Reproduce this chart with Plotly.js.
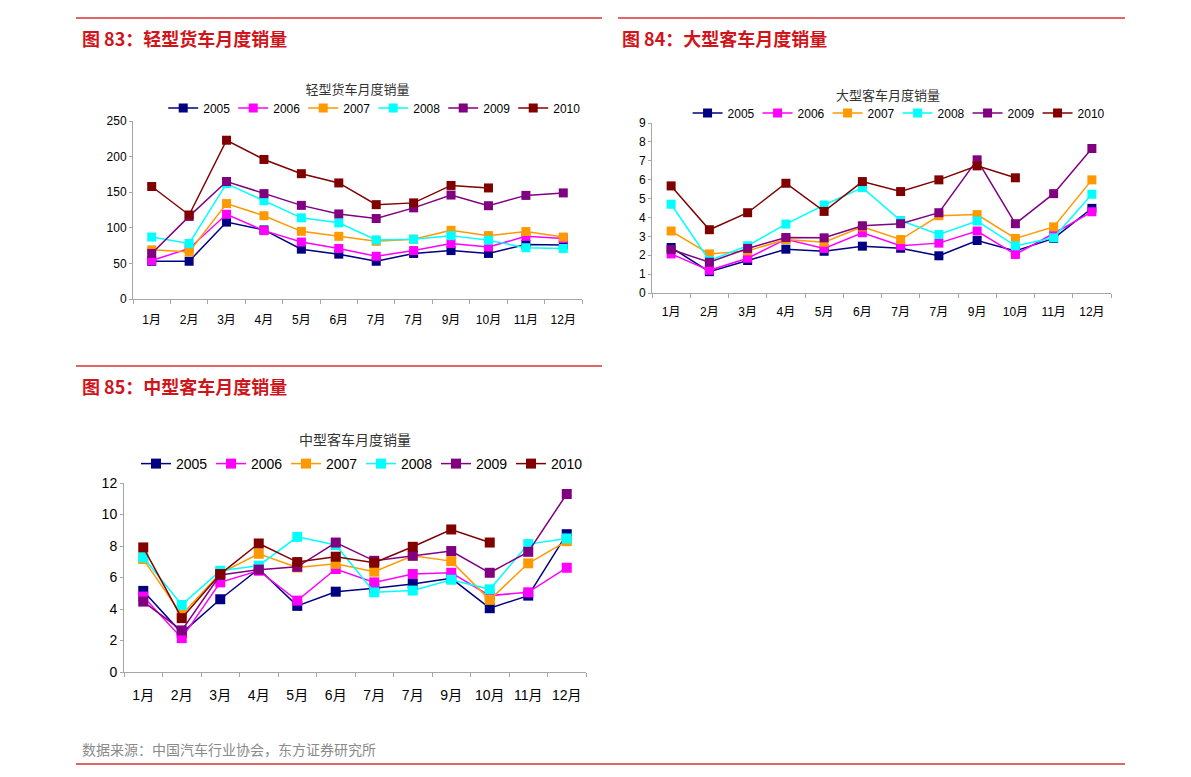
<!DOCTYPE html>
<html><head><meta charset="utf-8">
<script src="https://cdn.plot.ly/plotly-3.0.1.min.js"></script>
<style>
body{margin:0;background:#fff;width:1191px;height:777px;position:relative;overflow:hidden;font-family:"Noto Sans CJK SC","Noto Sans",sans-serif;}
.hl{position:absolute;height:2px;background:#e06666;}
.ht{position:absolute;color:#d0141b;font-weight:bold;font-size:18px;line-height:20px;}
.ch{position:absolute;}
.foot{position:absolute;color:#8a8a8a;font-size:14px;}
</style></head>
<body>
<div class="hl" style="left:76px;top:17px;width:526px;"></div>
<div class="hl" style="left:618px;top:17px;width:507px;"></div>
<div class="ht" style="left:82px;top:28px;">图 83：轻型货车月度销量</div>
<div class="ht" style="left:622px;top:28px;">图 84：大型客车月度销量</div>
<div class="hl" style="left:76px;top:365px;width:526px;"></div>
<div class="ht" style="left:82px;top:376px;">图 85：中型客车月度销量</div>
<div class="foot" style="left:82px;top:739px;">数据来源：中国汽车行业协会，东方证券研究所</div>
<div class="hl" style="left:76px;top:763px;width:1049px;height:1.5px;"></div>
<div id="c1" class="ch" style="left:76px;top:70px;width:530px;height:270px;"></div>
<div id="c2" class="ch" style="left:620px;top:70px;width:510px;height:260px;"></div>
<div id="c3" class="ch" style="left:76px;top:420px;width:530px;height:300px;"></div>
<script>
const months = ["1月","2月","3月","4月","5月","6月","7月","7月","9月","10月","11月","12月"];
const years = ["2005","2006","2007","2008","2009","2010"];
const colors = ["#000080","#ff00ff","#ff9900","#00ffff","#800080","#800000"];

// 轻型货车
const light2005 = [53,53,108,97,70,63,53,64,68,64,76.5,76];
const light2006 = [54,71,119,96,80,71,60,68,78,73,88,85];
const light2007 = [69,66,134,117,95,88,81,84,96.5,89,94.7,87];
const light2008 = [87,78,162,138,114,107,83,84,89,82.5,72,71];
const light2009 = [64,116,165,148,131.5,119.5,113,128,146,131,145.5,149];
const light2010 = [158,118,223,196,176,163,132.5,135,159.5,156,null,null];

// 大型客车
const large2005 = [2.41,1.13,1.72,2.32,2.21,2.48,2.37,1.97,2.78,2.23,2.89,4.48];
const large2006 = [2.07,1.2,1.84,2.85,2.36,3.19,2.5,2.64,3.28,2.04,3.15,4.3];
const large2007 = [3.28,2.07,2.23,2.83,2.69,3.5,2.83,4.09,4.15,2.89,3.5,5.99];
const large2008 = [4.7,1.72,2.5,3.65,4.66,5.58,3.84,3.1,3.81,2.5,2.92,5.23];
const large2009 = [2.3,1.63,2.36,2.94,2.92,3.56,3.67,4.25,7.05,3.67,5.26,7.65];
const large2010 = [5.67,3.35,4.25,5.81,4.32,5.9,5.37,5.99,6.73,6.1,null,null];

// 中型客车
const mid2005 = [5.15,2.47,4.62,6.54,4.2,5.1,5.31,5.59,5.95,4.05,4.85,8.75];
const mid2006 = [4.79,2.15,5.69,6.43,4.53,6.54,5.69,6.22,6.3,4.85,5.06,6.62];
const mid2007 = [7.17,3.63,6.26,7.51,6.64,6.87,6.37,7.38,7.04,4.58,6.9,8.31];
const mid2008 = [7.28,4.26,6.43,6.75,8.58,8.06,5.06,5.17,5.86,5.25,8.12,8.48];
const mid2009 = [4.47,2.64,6.16,6.5,6.68,8.22,7.06,7.38,7.68,6.3,7.63,11.3];
const mid2010 = [7.91,3.42,6.22,8.16,6.98,7.32,6.94,7.95,9.05,8.22,null,null];

const xpos = months.map((m,i)=>i+1);

function makeChart(id, title, series, yr, dtick, opt){
  const traces = series.map((ys,k)=>({
    x: xpos, y: ys, name: years[k], type:'scatter', mode:'lines+markers',
    line:{color:colors[k], width:1.5},
    marker:{symbol:'square', size:opt.ms, color:colors[k]},
    connectgaps:false
  }));
  const axisFont = {family:'"Liberation Sans","Noto Sans CJK SC",Arial,sans-serif', size:opt.fs, color:'#000'};
  const layout = {
    width:opt.w, height:opt.h,
    margin:{l:opt.l, r:opt.r, t:opt.t, b:opt.b},
    paper_bgcolor:'rgba(0,0,0,0)', plot_bgcolor:'rgba(0,0,0,0)',
    showlegend:true,
    title:{text:title, x:opt.tx, xref:'paper', xanchor:'center', y:opt.ty, yref:'container', yanchor:'middle',
      font:{family:'"Noto Sans CJK SC",sans-serif', size:opt.tfs, color:'#333'}},
    legend:{orientation:'h', x:opt.lx, xanchor:'center', y:opt.ly, yanchor:'middle',
      font:{family:'"Liberation Sans",Arial,sans-serif', size:opt.fs, color:'#000'},
      itemwidth:30, entrywidth:opt.ew, entrywidthmode:'pixels', tracegroupgap:0, bgcolor:'rgba(0,0,0,0)'},
    xaxis:{range:[0.5,12.5], tickmode:'array', tickvals:xpos, ticktext:months, ticks:'',
      showline:true, linecolor:'#a6a6a6', linewidth:1, showgrid:false, zeroline:false,
      tickfont:axisFont, ticklabelstandoff:opt.xso, fixedrange:true,
      minor:{tickmode:'linear', tick0:0.5, dtick:1, ticks:'outside', ticklen:4, tickcolor:'#a6a6a6', showgrid:false}},
    yaxis:{range:yr, dtick:dtick, tick0:0, ticks:'outside', ticklen:3, tickcolor:'#a6a6a6',
      showline:true, linecolor:'#a6a6a6', linewidth:1, showgrid:false, zeroline:false,
      tickfont:axisFont, fixedrange:true}
  };
  Plotly.newPlot(id, traces, layout, {staticPlot:true, displayModeBar:false});
}

makeChart('c1','轻型货车月度销量',[light2005,light2006,light2007,light2008,light2009,light2010],[0,250],50,
  {w:530,h:270,l:57,r:24,t:51,b:41,ms:9,fs:12,tfs:13,tx:0.5,ty:1-19/270,lx:0.535,ly:(299-108)/178,xso:10,ew:25});
makeChart('c2','大型客车月度销量',[large2005,large2006,large2007,large2008,large2009,large2010],[0,9],1,
  {w:510,h:260,l:32,r:19,t:53,b:37,ms:9,fs:12,tfs:13,tx:0.514,ty:1-25/260,lx:0.535,ly:(293-113)/170,xso:8,ew:25});
makeChart('c3','中型客车月度销量',[mid2005,mid2006,mid2007,mid2008,mid2009,mid2010],[0,12],2,
  {w:530,h:300,l:48,r:20,t:63,b:48,ms:10,fs:14,tfs:14,tx:0.5,ty:1-20/300,lx:0.513,ly:(672-464)/189,xso:10,ew:30});
</script>
</body></html>
